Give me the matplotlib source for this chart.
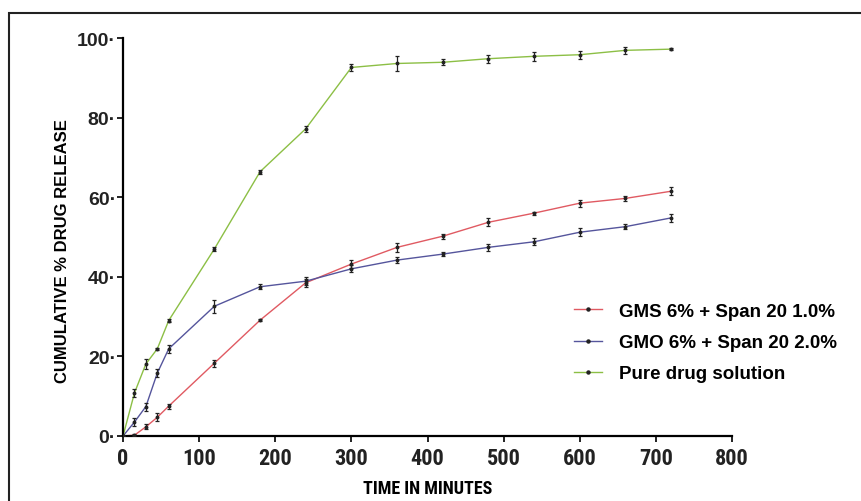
import numpy as np
import matplotlib.pyplot as plt
from matplotlib.patches import Rectangle

## time points (minutes)
time = [0, 15, 30, 45, 60, 120, 180, 240, 300, 360, 420, 480, 540, 600, 660, 720]

## cumulative % drug release
gms = [0, 0.2, 2.3, 4.7, 7.5, 18.3, 29.1, 38.5, 43.2, 47.4, 50.2, 53.7, 56.0, 58.5, 59.7, 61.5]
gms_err = [0, 0.2, 0.6, 1.0, 0.6, 0.9, 0.3, 1.0, 0.9, 1.2, 0.6, 1.0, 0.4, 0.9, 0.6, 1.0]

gmo = [0, 3.5, 7.4, 15.8, 21.9, 32.6, 37.5, 38.9, 42.0, 44.2, 45.7, 47.4, 48.8, 51.2, 52.6, 54.8]
gmo_err = [0, 1.0, 1.0, 1.0, 1.0, 1.6, 0.6, 1.0, 0.9, 0.7, 0.6, 0.9, 0.9, 1.0, 0.7, 1.1]

pure = [0, 10.8, 18.1, 21.9, 29.0, 47.0, 66.4, 77.2, 92.6, 93.6, 93.9, 94.8, 95.4, 95.8, 96.9, 97.2]
pure_err = [0, 1.0, 1.3, 0.3, 0.4, 0.4, 0.5, 0.8, 0.9, 1.8, 0.7, 1.0, 1.2, 1.0, 0.8, 0.3]

xticks = [0, 100, 200, 300, 400, 500, 600, 700, 800]
yticks = [0, 20, 40, 60, 80, 100]

plt.rcParams['font.family'] = ['Liberation Sans', 'DejaVu Sans']
narrow = ['Roboto Condensed', 'DejaVu Sans']

fig = plt.figure(figsize=(8.61, 5.02), dpi=100, facecolor='w')
ax = fig.add_axes([0.1429, 0.1295, 0.7073, 0.7928])

## outer frame around the figure
fig.patches.append(Rectangle((9/861, -0.05), 1.0, (502-14)/502 + 0.05,
                             transform=fig.transFigure, fill=False,
                             edgecolor='#222222', linewidth=1.5))

series = [
    (gms, gms_err, '#e05a62', 'GMS 6% + Span 20 1.0%'),
    (gmo, gmo_err, '#55559c', 'GMO 6% + Span 20 2.0%'),
    (pure, pure_err, '#8cbf45', 'Pure drug solution'),
]
for vals, err, col, lab in series:
    ax.plot(time, vals, color=col, linewidth=1.0, zorder=2)
    ax.errorbar(time, vals, yerr=err, fmt='none', ecolor='#222222',
                elinewidth=0.9, capsize=1.6, capthick=0.9, zorder=3)
    ax.plot(time, vals, linestyle='none', marker='o', markersize=1.8,
            color='#222222', zorder=4)
    ax.plot([], [], color=col, linewidth=1.0, marker='o', markersize=2.2,
            markerfacecolor='#222222', markeredgecolor='#222222', label=lab)

ax.set_xlim(0, 800)
ax.set_ylim(0, 100)
ax.set_xticks(xticks)
ax.set_yticks(yticks)
ax.set_yticklabels([str(v) + '·' for v in yticks])
ax.spines['top'].set_visible(False)
ax.spines['right'].set_visible(False)
ax.spines['left'].set_linewidth(1.6)
ax.spines['bottom'].set_linewidth(1.6)
ax.tick_params(axis='both', direction='out', width=1.4, length=4, colors='#222222')
for t in ax.get_xticklabels():
    t.set_fontsize(16)
    t.set_family(narrow)
    t.set_fontstretch('condensed')
    t.set_fontweight('bold')
for t in ax.get_yticklabels():
    t.set_fontsize(14)
    t.set_fontweight('bold')
ax.tick_params(axis='x', pad=4)
ax.tick_params(axis='y', pad=1)

ax.set_xlabel('TIME IN MINUTES', fontsize=13, family=narrow, fontstretch='condensed',
              fontweight='bold', labelpad=7)
ax.set_ylabel('CUMULATIVE % DRUG RELEASE', fontsize=12, fontweight='bold')
ax.yaxis.set_label_coords(-0.087, 0.467)

leg = ax.legend(loc='upper left', bbox_to_anchor=(0.713, 0.377), frameon=False,
                prop={'size': 13.5, 'weight': 'bold'}, handlelength=1.5,
                handletextpad=0.9, labelspacing=0.75)

plt.savefig('out.png', dpi=100, facecolor='w')
